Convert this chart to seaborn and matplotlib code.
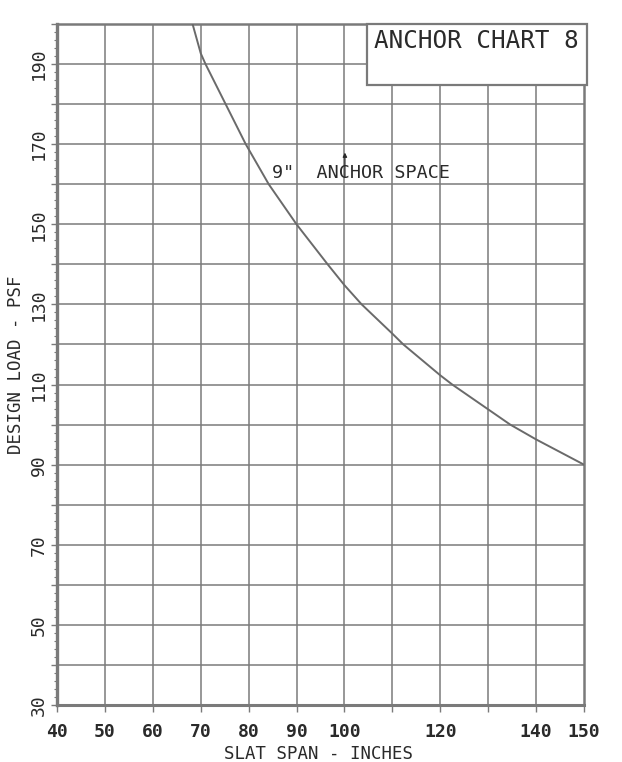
import numpy as np
import pandas as pd
import matplotlib
matplotlib.use("Agg")
import matplotlib.pyplot as plt
from matplotlib.patches import Rectangle
import seaborn as sns

# values (slat span in inches vs design load in psf)
slat_span = [68.3, 70.0, 71.0, 75.2, 79.4, 84.2, 90.0, 96.5, 100.0,
             103.6, 110.0, 112.3, 120.0, 122.5, 130.0, 134.6, 140.0, 150.0]
design_load = [200.0, 192.7, 190.0, 180.0, 170.0, 160.0, 150.0, 140.0, 134.8,
               130.0, 122.7, 120.0, 112.3, 110.0, 103.8, 100.0, 96.3, 90.0]

x_ticks = list(range(40, 151, 10))
x_labels = ["40", "50", "60", "70", "80", "90", "100", "", "120", "", "140", "150"]
y_ticks = list(range(30, 201, 10))
y_labels = [str(v) if (v - 30) % 20 == 0 and v < 200 else "" for v in y_ticks]

chart_title = "ANCHOR CHART 8"
curve_label = '9"  ANCHOR SPACE'

df = pd.DataFrame({"span": slat_span, "load": design_load})

sns.set_theme(style="white")
plt.rcParams["font.family"] = ["DejaVu Sans Mono", "DejaVu Sans"]

ink = "#2a2a2a"
line_gray = "#7a7a7a"

fig = plt.figure(figsize=(6.22, 7.62), dpi=100)
ax = fig.add_axes([0.0916, 0.0748, 0.8473, 0.8937])

ax.set_xlim(40, 150)
ax.set_ylim(30, 200)

# grid every 10 units
for v in x_ticks[1:-1]:
    ax.axvline(v, color=line_gray, lw=1.1, zorder=1)
for v in y_ticks[1:-1]:
    ax.axhline(v, color=line_gray, lw=1.1, zorder=1)

sns.lineplot(data=df, x="span", y="load", ax=ax, color="#6a6a6a", lw=1.4,
             estimator=None, sort=False, zorder=3)

ax.set_xticks(x_ticks)
ax.set_xticklabels(x_labels, fontsize=13, color=ink, fontweight="bold")
ax.set_yticks(y_ticks)
ax.set_yticklabels(y_labels, fontsize=13, color=ink, rotation=90, va="center")
ax.set_yticks(np.arange(30, 201, 2), minor=True)
ax.tick_params(axis="x", which="major", direction="out", length=5, width=1,
               color=line_gray, pad=8, bottom=True)
ax.tick_params(axis="y", which="major", direction="out", length=4, width=1,
               color=line_gray, pad=2.5, left=True)
ax.tick_params(axis="y", which="minor", direction="out", length=2.5, width=0.8,
               color=line_gray, left=True)

ax.set_xlabel("SLAT SPAN - INCHES", fontsize=12.5, color=ink)
ax.set_ylabel("DESIGN LOAD - PSF", fontsize=12.5, color=ink)
ax.xaxis.set_label_coords(0.497, -0.058)
ax.yaxis.set_label_coords(-0.06, 0.5)

for side, w in {"left": 2.4, "bottom": 2.2, "right": 1.8, "top": 1.8}.items():
    ax.spines[side].set_visible(True)
    ax.spines[side].set_color(line_gray)
    ax.spines[side].set_linewidth(w)

# title box in the top right corner
box = Rectangle((104.7, 184.75), 150.6 - 104.7, 200 - 184.75,
                facecolor="white", edgecolor=line_gray, lw=1.6,
                zorder=4, clip_on=False)
ax.add_patch(box)
ax.text(106.2, 195.7, chart_title, fontsize=17.5, color=ink, va="center",
        ha="left", zorder=5)

# curve label with small arrow
ax.text(84.9, 162.7, curve_label, fontsize=13.2, color=ink, va="center",
        ha="left", zorder=5)
ax.annotate("", xy=(100.1, 168.6), xytext=(100.1, 161.0),
            arrowprops=dict(arrowstyle="-|>", color=ink, lw=0.9,
                            mutation_scale=6), zorder=5)

fig.savefig("out.png", dpi=100, facecolor="white")
